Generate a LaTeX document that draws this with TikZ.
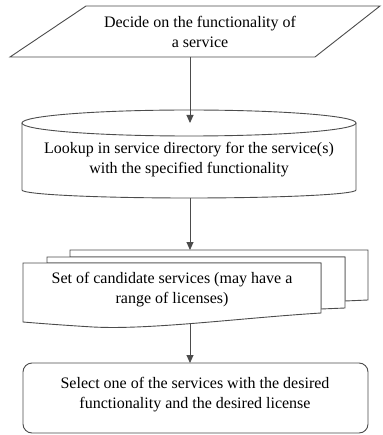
\documentclass[tikz,border=0pt]{standalone}
\usepackage{fontspec}
\setmainfont{Liberation Serif}
\usetikzlibrary{arrows.meta}
\begin{document}
\begin{tikzpicture}[x=1pt, y=-1pt, font=\fontsize{16}{20}\selectfont, >={Triangle[length=8pt,width=7pt]},
  shape line/.style={draw=black!70, line width=0.9pt, fill=white},
  flow/.style={->, draw=black!70, line width=0.9pt},
  label text/.style={align=center, inner sep=0pt}]
  % --- Khung ---
  \useasboundingbox (0,0) rectangle (382,435);
  \def\xmid{190}
  % --- Hình bình hành ---
  \draw[shape line] (86,6) -- (380,6) -- (315,57) -- (10,57) -- cycle;
  \node[label text] (decide) at (200,32) {Decide on the functionality of\\a service};
  % --- Hình trụ ---
  \draw[shape line] (22,123) -- (22,190) arc[start angle=180, end angle=0, x radius=167, y radius=8]
    -- (356,123);
  \draw[shape line] (189,123) ellipse[x radius=167, y radius=13];
  \node[label text] (lookup) at (189,160) {Lookup in service directory for the service(s)\\with the specified functionality};
  % --- Nhiều tài liệu ---
  \draw[shape line] (70,250) -- (368,250) -- (368,300) -- (345,301) -- (345,257) -- (70,257) -- cycle;
  \draw[shape line] (47,257) -- (345,257) -- (345,308) -- (321,309) -- (321,263) -- (47,263) -- cycle;
  \draw[shape line] (23,263) -- (321,263) -- (321,313)
    .. controls (240,318) and (150,330) .. (93,327) .. controls (60,325) and (35,323) .. (23,322) -- cycle;
  \node[label text] (cands) at (172,290) {Set of candidate services (may have a\\range of licenses)};
  % --- Hình chữ nhật bo góc ---
  \draw[shape line, rounded corners=9pt] (23,363) rectangle (368,433);
  \node[label text] (select) at (195,395) {Select one of the services with the desired\\functionality and the desired license};
  % --- Điểm nối ---
  \foreach \name/\y in {decideS/57, lookupN/123, lookupS/198, candsN/250, candsS/323, selectN/363}
    \coordinate (\name) at (\xmid,\y);
  % --- Mũi tên ---
  \draw[flow] (decideS) -- (lookupN);
  \draw[flow] (lookupS) -- (candsN);
  \draw[flow] (candsS) -- (selectN);
\end{tikzpicture}
\end{document}
